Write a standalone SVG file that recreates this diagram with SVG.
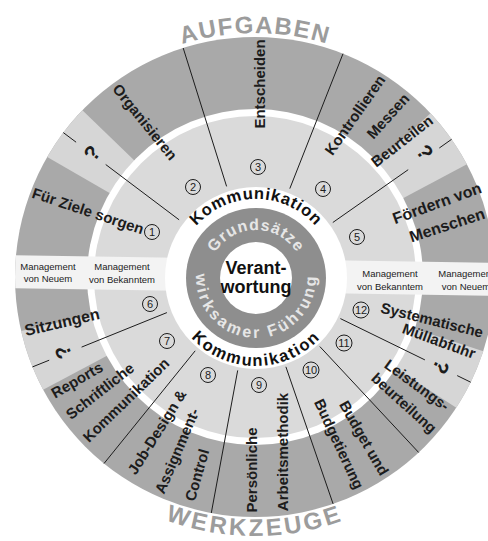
<svg xmlns="http://www.w3.org/2000/svg" width="488" height="541" viewBox="0 0 488 541">
<style>
  .lbl{font-family:"Liberation Sans",Arial,sans-serif;font-weight:bold;font-size:15px;fill:#1c1c1c;text-anchor:middle}
  .big{font-size:16px}
  .mg{font-family:"Liberation Sans",Arial,sans-serif;font-size:9.5px;fill:#1c1c1c;text-anchor:middle}
  .num{font-family:"Liberation Sans",Arial,sans-serif;font-size:11px;fill:#1c1c1c;text-anchor:middle}
  .nc{fill:none;stroke:#1c1c1c;stroke-width:1}
  .q{font-family:"Liberation Sans",Arial,sans-serif;font-weight:bold;font-size:21px;fill:#1c1c1c;text-anchor:middle}
  .ttl{font-family:"Liberation Sans",Arial,sans-serif;font-weight:bold;font-size:24px;fill:#9c9c9c}
  .komm{font-family:"Liberation Sans",Arial,sans-serif;font-weight:bold;font-size:16.5px;fill:#111}
  .ring{font-family:"Liberation Sans",Arial,sans-serif;font-weight:bold;font-size:16px;fill:#e6e6e6}
  .ctr{font-family:"Liberation Sans",Arial,sans-serif;font-weight:bold;font-size:18px;fill:#111;text-anchor:middle}
  .div{stroke:#1c1c1c;stroke-width:1;fill:none}
</style>
<defs>
  <clipPath id="outerClip"><circle cx="255" cy="277" r="240"/></clipPath>
  <path id="pAuf" d="M 11,277 A 244 244 0 0 1 499,277"/>
  <path id="pWerk" d="M -4,277 A 259 259 0 0 0 514,277"/>
  <path id="pKommTop" d="M 177,278 A 79 79 0 0 1 335,278"/>
  <path id="pKommBot" d="M 168,278 A 88 88 0 0 0 344,278"/>
  <path id="pGrund" d="M 208,278 A 48 48 0 0 1 304,278"/>
  <path id="pWirk" d="M 196.9,267.6 A 60 60 0 1 0 315.1,267.6"/>
</defs>
<rect width="488" height="541" fill="#ffffff"/>

<g id="rings">
  <circle cx="255" cy="277" r="240" fill="#a9a9a9"/>
  <path d="M255,277 L47.2,157 A240 240 0 0 1 82.4,110.3 Z" fill="#d6d6d6"/>
  <path d="M255,277 L430.5,113.3 A240 240 0 0 1 466.9,164.3 Z" fill="#d6d6d6"/>
  <path d="M255,277 L483.3,351.2 A240 240 0 0 1 456.3,407.7 Z" fill="#d6d6d6"/>
  <path d="M255,277 L43.1,389.7 A240 240 0 0 1 21.1,331 Z" fill="#d6d6d6"/>
  <circle cx="255" cy="277" r="168" fill="#ffffff"/>
  <circle cx="255" cy="277" r="161" fill="#dadada"/>
  <g clip-path="url(#outerClip)">
    <rect x="0" y="259" width="510" height="33" fill="#f3f3f3" transform="rotate(0.9 255 275)"/>
  </g>
  <circle cx="256" cy="278" r="91" fill="#ffffff"/>
  <circle cx="256" cy="278" r="70" fill="#8e8e8e"/>
  <circle cx="256" cy="278" r="36" fill="#ffffff"/>
</g>

<g id="connectors">
  <line class="div" x1="226.6" y1="186.4" x2="183.2" y2="48"/>
  <line class="div" x1="289.8" y1="188.6" x2="343" y2="53.7"/>
  <line class="div" x1="332.8" y1="222.5" x2="408.2" y2="169.7"/>
  <line class="div" x1="439.3" y1="148" x2="451.6" y2="139.3"/>
  <line class="div" x1="179.1" y1="219.8" x2="105.7" y2="164.5"/>
  <line class="div" x1="76.1" y1="142.2" x2="63.3" y2="132.6"/>
  <line class="div" x1="340.4" y1="318.6" x2="424.9" y2="359.9"/>
  <line class="div" x1="457.2" y1="375.6" x2="470.7" y2="382.2"/>
  <line class="div" x1="166.9" y1="312.6" x2="81.6" y2="347.1"/>
  <line class="div" x1="49.2" y1="360.2" x2="32.5" y2="366.9"/>
  <line class="div" x1="195.2" y1="350.8" x2="104" y2="463.5"/>
  <line class="div" x1="237.7" y1="370.4" x2="211.3" y2="513"/>
  <line class="div" x1="285.9" y1="366.8" x2="333.1" y2="503.9"/>
  <line class="div" x1="319.8" y1="346.5" x2="418.7" y2="452.5"/>
</g>

<g id="titles">
  <text class="ttl" letter-spacing="1.5"><textPath href="#pAuf" startOffset="50%" text-anchor="middle">AUFGABEN</textPath></text>
  <text class="ttl" letter-spacing="3"><textPath href="#pWerk" startOffset="50%" text-anchor="middle">WERKZEUGE</textPath></text>
</g>

<g id="center">
  <text class="komm" letter-spacing="0.8"><textPath href="#pKommTop" startOffset="50%" text-anchor="middle">Kommunikation</textPath></text>
  <text class="komm" letter-spacing="1.6"><textPath href="#pKommBot" startOffset="50%" text-anchor="middle">Kommunikation</textPath></text>
  <text class="ring" letter-spacing="1"><textPath href="#pGrund" startOffset="50%" text-anchor="middle">Grundsätze</textPath></text>
  <text class="ring" letter-spacing="2.8"><textPath href="#pWirk" startOffset="50%" text-anchor="middle">wirksamer Führung</textPath></text>
  <text class="ctr" x="256" y="274">Verant-</text>
  <text class="ctr" x="256" y="293">wortung</text>
</g>

<g id="n1"><circle class="nc" cx="152" cy="232" r="7.5"/><text class="num" x="152" y="236">1</text><text class="lbl" transform="translate(88,211) rotate(18.5)" dy="0.35em">Für Ziele sorgen</text></g>
<g id="n2"><circle class="nc" cx="193" cy="187" r="7.5"/><text class="num" x="193" y="191">2</text><text class="lbl" transform="translate(145,122) rotate(51)" dy="0.35em">Organisieren</text></g>
<g id="n3"><circle class="nc" cx="258" cy="167" r="7.5"/><text class="num" x="258" y="171">3</text><text class="lbl" transform="translate(260,84) rotate(-90)" dy="0.35em">Entscheiden</text></g>
<g id="n4"><circle class="nc" cx="323" cy="189" r="7.5"/><text class="num" x="323" y="193">4</text>
  <text class="lbl" transform="translate(355,115) rotate(-55)" dy="0.35em">Kontrollieren</text>
  <text class="lbl" transform="translate(388,116) rotate(-48)" dy="0.35em">Messen</text>
  <text class="lbl" transform="translate(402,141) rotate(-38)" dy="0.35em">Beurteilen</text></g>
<g id="n5"><circle class="nc" cx="357" cy="237" r="7.5"/><text class="num" x="357" y="241">5</text>
  <text class="lbl big" transform="translate(437,203) rotate(-20)" dy="0.35em">Fördern von</text>
  <text class="lbl big" transform="translate(447,225) rotate(-18)" dy="0.35em">Menschen</text></g>
<g id="n6"><circle class="nc" cx="150" cy="304" r="7.5"/><text class="num" x="150" y="308">6</text><text class="lbl big" transform="translate(62,322) rotate(-13)" dy="0.35em">Sitzungen</text></g>
<g id="n7"><circle class="nc" cx="167" cy="341" r="7.5"/><text class="num" x="167" y="345">7</text>
  <text class="lbl" transform="translate(77,380) rotate(-30)" dy="0.35em">Reports</text>
  <text class="lbl" transform="translate(100,391) rotate(-38)" dy="0.35em">Schriftliche</text>
  <text class="lbl" transform="translate(126,400) rotate(-44)" dy="0.35em">Kommunikation</text></g>
<g id="n8"><circle class="nc" cx="208" cy="375" r="7.5"/><text class="num" x="208" y="379">8</text>
  <text class="lbl" transform="translate(157,432) rotate(-58)" dy="0.35em">Job-Design &amp;</text>
  <text class="lbl" transform="translate(177,451) rotate(-67)" dy="0.35em">Assignment-</text>
  <text class="lbl" transform="translate(197,475) rotate(-74)" dy="0.35em">Control</text></g>
<g id="n9"><circle class="nc" cx="259" cy="385" r="7.5"/><text class="num" x="259" y="389">9</text>
  <text class="lbl" transform="translate(252,470) rotate(-90)" dy="0.35em">Persönliche</text>
  <text class="lbl" transform="translate(283,452) rotate(-90)" dy="0.35em">Arbeitsmethodik</text></g>
<g id="n10"><circle class="nc" cx="311" cy="370" r="8"/><text class="num" x="311" y="374">10</text>
  <text class="lbl" transform="translate(364,438) rotate(60)" dy="0.35em">Budget und</text>
  <text class="lbl" transform="translate(339,444) rotate(65)" dy="0.35em">Budgetierung</text></g>
<g id="n11"><circle class="nc" cx="344" cy="343" r="8"/><text class="num" x="344" y="347">11</text>
  <text class="lbl" transform="translate(417,385) rotate(36)" dy="0.35em">Leistungs-</text>
  <text class="lbl" transform="translate(404,403) rotate(42)" dy="0.35em">beurteilung</text></g>
<g id="n12"><circle class="nc" cx="361" cy="310" r="8"/><text class="num" x="361" y="314">12</text>
  <text class="lbl" transform="translate(432,320) rotate(14)" dy="0.35em">Systematische</text>
  <text class="lbl" transform="translate(439,341) rotate(20)" dy="0.35em">Müllabfuhr</text></g>

<g id="management">
  <text class="mg" x="48" y="270">Management</text>
  <text class="mg" x="48" y="282">von Neuem</text>
  <text class="mg" x="122" y="270">Management</text>
  <text class="mg" x="122" y="283">von Bekanntem</text>
  <text class="mg" x="390" y="277">Management</text>
  <text class="mg" x="390" y="290">von Bekanntem</text>
  <text class="mg" x="466" y="277">Management</text>
  <text class="mg" x="466" y="290">von Neuem</text>
</g>

<g id="questions">
  <text class="q" transform="translate(92,153) rotate(-53)" dy="0.35em">?</text>
  <text class="q" transform="translate(425,152) rotate(55)" dy="0.35em">?</text>
  <text class="q" transform="translate(63,352) rotate(-112)" dy="0.35em">?</text>
  <text class="q" transform="translate(441,367) rotate(116)" dy="0.35em">?</text>
</g>
</svg>
